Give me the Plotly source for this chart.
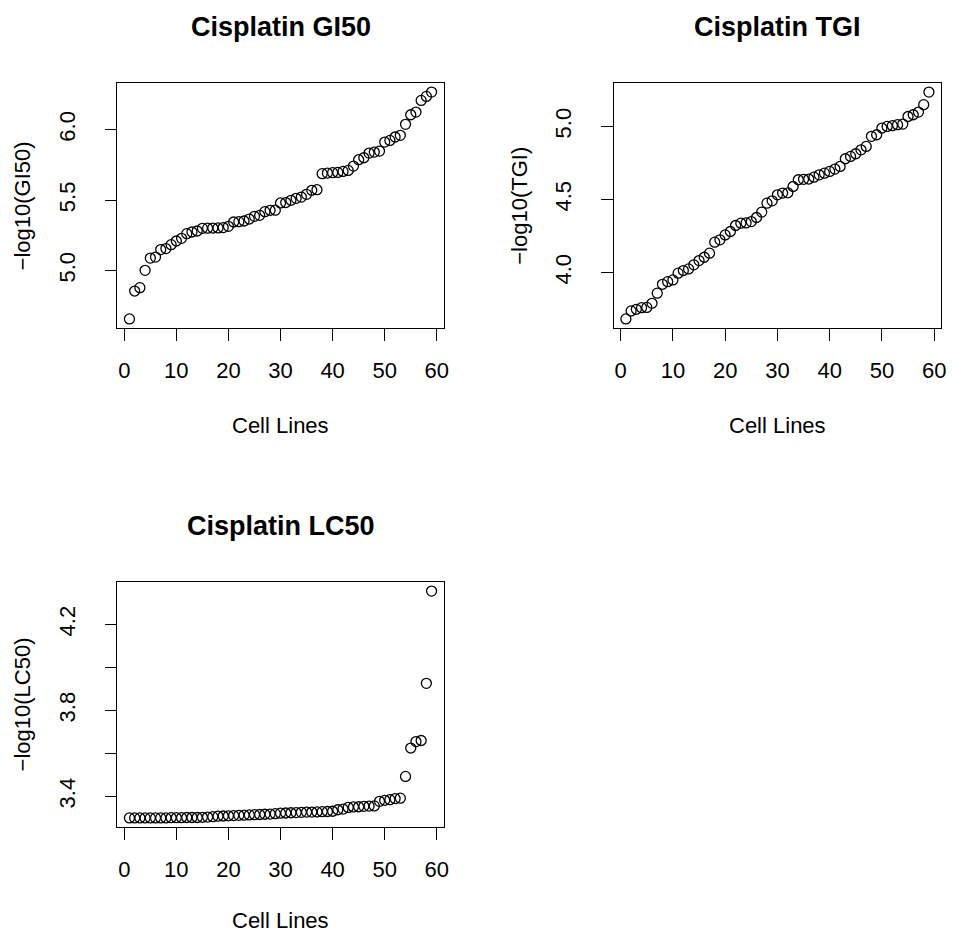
import plotly.graph_objects as go

# ---------------- data ----------------
cell_lines = list(range(1, 60))

gi50 = [4.657, 4.855, 4.879, 5.002, 5.089, 5.096, 5.149, 5.156, 5.184, 5.210,
        5.229, 5.262, 5.274, 5.281, 5.300, 5.301, 5.302, 5.303, 5.305, 5.314,
        5.345, 5.347, 5.352, 5.366, 5.385, 5.392, 5.418, 5.428, 5.429, 5.480,
        5.483, 5.499, 5.513, 5.522, 5.541, 5.570, 5.574, 5.688, 5.692, 5.695,
        5.697, 5.704, 5.711, 5.742, 5.787, 5.801, 5.834, 5.841, 5.848, 5.912,
        5.924, 5.948, 5.960, 6.038, 6.106, 6.125, 6.208, 6.236, 6.267]

tgi = [3.683, 3.738, 3.749, 3.760, 3.762, 3.790, 3.859, 3.920, 3.938, 3.950,
       3.996, 4.014, 4.025, 4.053, 4.082, 4.105, 4.133, 4.208, 4.224, 4.258,
       4.281, 4.322, 4.338, 4.340, 4.349, 4.377, 4.414, 4.475, 4.491, 4.532,
       4.544, 4.546, 4.589, 4.635, 4.638, 4.640, 4.653, 4.669, 4.680, 4.692,
       4.708, 4.726, 4.779, 4.795, 4.813, 4.840, 4.863, 4.932, 4.943, 4.989,
       5.000, 5.005, 5.012, 5.016, 5.068, 5.080, 5.098, 5.149, 5.235]

lc50 = [3.300, 3.300, 3.300, 3.300, 3.300, 3.300, 3.300, 3.300, 3.301, 3.301,
        3.301, 3.302, 3.302, 3.302, 3.303, 3.304, 3.306, 3.308, 3.309, 3.310,
        3.311, 3.312, 3.313, 3.314, 3.315, 3.316, 3.317, 3.318, 3.320, 3.322,
        3.323, 3.324, 3.325, 3.326, 3.327, 3.327, 3.328, 3.329, 3.330, 3.331,
        3.338, 3.341, 3.349, 3.351, 3.352, 3.354, 3.355, 3.356, 3.377, 3.382,
        3.385, 3.390, 3.392, 3.493, 3.625, 3.655, 3.660, 3.926, 4.355]

titles = ["Cisplatin GI50", "Cisplatin TGI", "Cisplatin LC50"]
ylabels = ["\u2212log10(GI50)", "\u2212log10(TGI)", "\u2212log10(LC50)"]
xlabel = "Cell Lines"
x_ticks = [0, 10, 20, 30, 40, 50, 60]
y_tickvals = [[5.0, 5.5, 6.0], [4.0, 4.5, 5.0], [3.4, 3.6, 3.8, 4.0, 4.2]]
y_ticktext = [["5.0", "5.5", "6.0"], ["4.0", "4.5", "5.0"], ["3.4", "", "3.8", "", "4.2"]]

# ---------------- layout geometry (pixels) ----------------
W, H = 953, 935
FONT = "Liberation Sans, Arial, Helvetica, sans-serif"
# plot boxes: (left, right, top, bottom)
boxes = [(118, 446, 83, 328), (617, 946, 83, 328), (118, 446, 582, 827)]


def rrange(vals):
    lo, hi = min(vals), max(vals)
    d = hi - lo
    return [lo - 0.04 * d, hi + 0.04 * d]


fig = go.Figure()
series = [gi50, tgi, lc50]
annotations = []
for k, (vals, box) in enumerate(zip(series, boxes)):
    n = "" if k == 0 else str(k + 1)
    l, r, t, b = box
    fig.add_trace(go.Scatter(
        x=cell_lines, y=vals, mode="markers",
        xaxis="x" + n, yaxis="y" + n,
        marker=dict(symbol="circle-open", size=10, color="black",
                    line=dict(width=1.3, color="black")),
        showlegend=False, hoverinfo="skip"))
    axcommon = dict(showline=True, linecolor="black", linewidth=1, mirror=True,
                    ticks="outside", ticklen=11.5, tickwidth=1, tickcolor="black",
                    showgrid=False, zeroline=False,
                    tickfont=dict(family=FONT, size=22, color="black"))
    fig.layout["xaxis" + n] = dict(
        domain=[l / W, r / W], anchor="y" + n,
        range=rrange(cell_lines), tickvals=x_ticks,
        ticklabelstandoff=11, **axcommon)
    fig.layout["yaxis" + n] = dict(
        domain=[1 - b / H, 1 - t / H], anchor="x" + n,
        range=rrange(vals), tickvals=y_tickvals[k], ticktext=y_ticktext[k],
        tickangle=-90, ticklabelstandoff=21, **axcommon)
    cx = (l + r) / 2
    cy = (t + b) / 2
    # title
    annotations.append(dict(text="<b>" + titles[k] + "</b>", x=cx / W, y=1 - (t - 56) / H,
                            xref="paper", yref="paper", showarrow=False,
                            xanchor="center", yanchor="middle",
                            font=dict(family=FONT, size=27, color="black")))
    # x label
    xl_y = min(b + 97, H - 15)
    annotations.append(dict(text=xlabel, x=cx / W, y=1 - xl_y / H,
                            xref="paper", yref="paper", showarrow=False,
                            xanchor="center", yanchor="middle",
                            font=dict(family=FONT, size=22, color="black")))
    # y label
    annotations.append(dict(text=ylabels[k], x=(l - 95) / W, y=1 - cy / H,
                            xref="paper", yref="paper", showarrow=False, textangle=-90,
                            xanchor="center", yanchor="middle",
                            font=dict(family=FONT, size=22, color="black")))

fig.update_layout(width=W, height=H, margin=dict(l=0, r=0, t=0, b=0),
                  paper_bgcolor="white", plot_bgcolor="white",
                  annotations=annotations, font=dict(family=FONT, color="black"))

fig.write_html("out.html")
